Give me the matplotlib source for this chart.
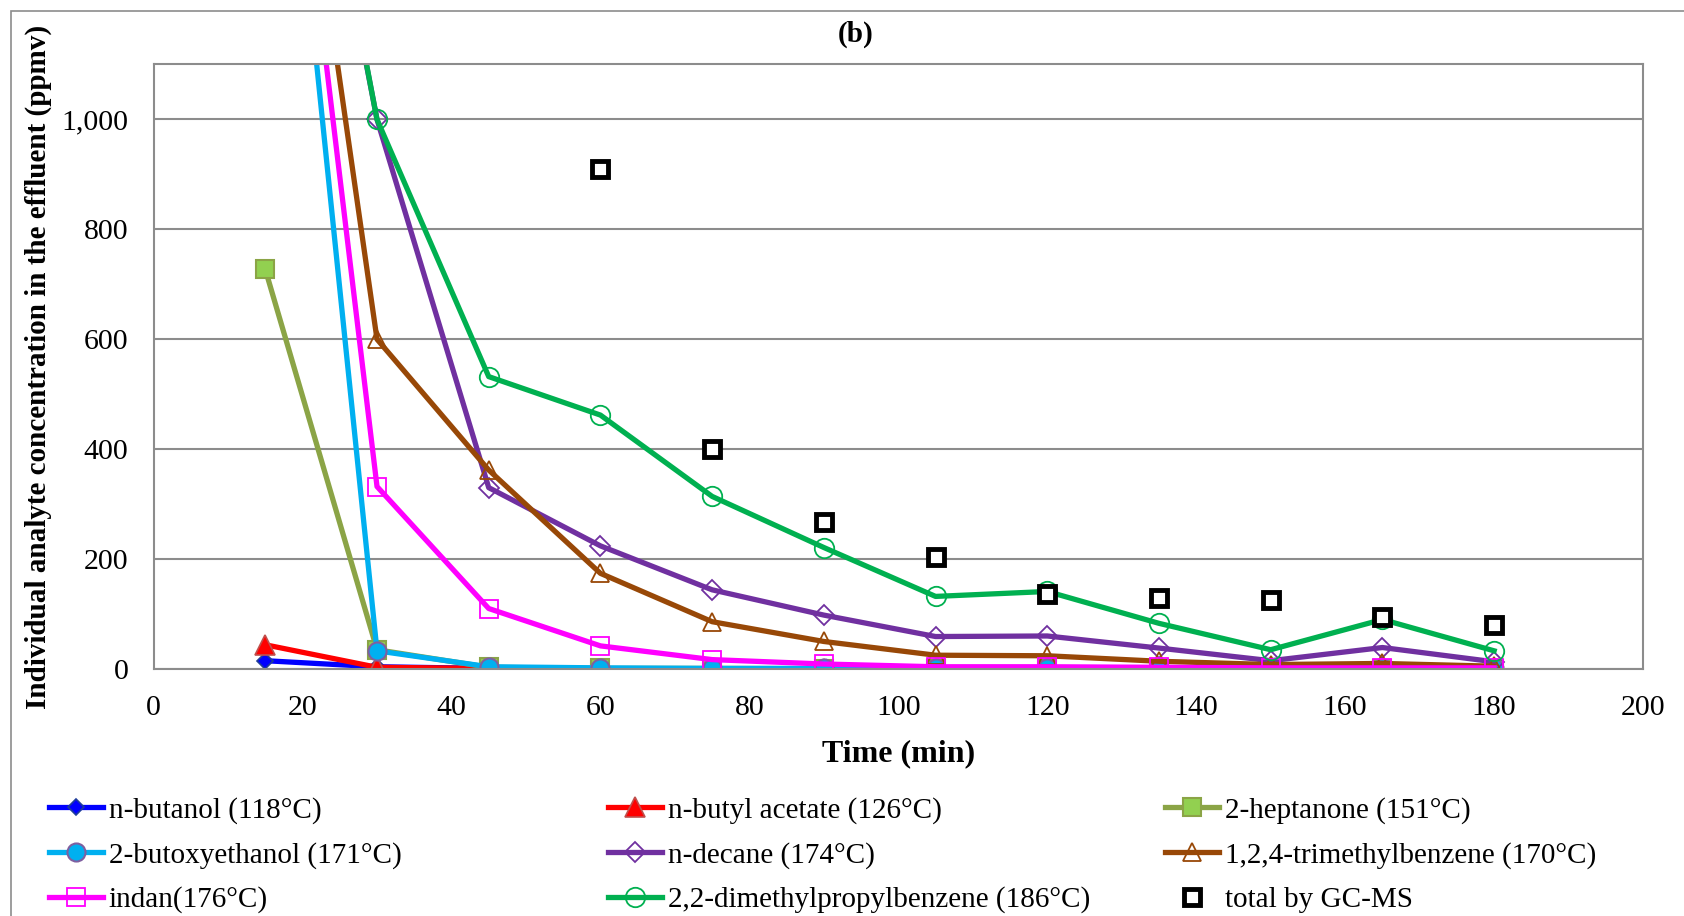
import numpy as np
import matplotlib
matplotlib.use("Agg")
import matplotlib.pyplot as plt
from matplotlib.ticker import FuncFormatter, MultipleLocator
from matplotlib.patches import Rectangle

plt.rcParams['font.family'] = ['Liberation Serif', 'DejaVu Serif']

# sampling times (min)
t = [15, 30, 45, 60, 75, 90, 105, 120, 135, 150, 165, 180]
t_total = [60, 75, 90, 105, 120, 135, 150, 165, 180]

# concentrations in the effluent (ppmv)
butanol = [15, 4, 1, 0.5, 0.5, 0.5, 0.3, 0.3, 0.3, 0.3, 0.3, 0.3]
butyl_acetate = [44, 3, 1, 0.5, 0.5, 0.5, 0.3, 0.3, 0.3, 0.3, 0.3, 0.3]
heptanone = [727, 35, 3, 1, 1, 0.5, 0.5, 0.5, 0.5, 0.5, 0.5, 0.5]
butoxyethanol = [2010, 33, 4, 2, 1, 1, 1, 1, 1, 1, 1, 1]
decane = [2050, 1000, 330, 224, 144, 98, 59, 60, 38, 15, 39, 13]
tmb = [2015, 600, 362, 174, 86, 50, 25, 24, 14, 8, 10, 5]
indan = [2025, 332, 110, 42, 17, 9, 4, 4, 3, 2, 2, 2]
dmpb = [2070, 1000, 532, 462, 314, 221, 132, 141, 83, 35, 90, 33]
total_gcms = [909, 400, 267, 203, 136, 129, 125, 94, 80]

labels = ["n-butanol (118°C)", "n-butyl acetate (126°C)", "2-heptanone (151°C)",
          "2-butoxyethanol (171°C)", "n-decane (174°C)", "1,2,4-trimethylbenzene (170°C)",
          "indan(176°C)", "2,2-dimethylpropylbenzene (186°C)", "total by GC-MS"]

fig = plt.figure(figsize=(16.84, 9.16), dpi=100)
ax = fig.add_axes([0.0912, 0.2697, 0.8845, 0.6599])

lw = 3.8
h = []
h += ax.plot(t, butanol, color="#0000FF", lw=lw, marker="D", ms=8,
             mfc="#0000FF", mec="#1F3D9A", mew=1.2)
h += ax.plot(t, butyl_acetate, color="#FF0000", lw=lw, marker="^", ms=14,
             mfc="#FF0000", mec="#C0504D", mew=1.2)
h += ax.plot(t, heptanone, color="#8BA446", lw=lw, marker="s", ms=13,
             mfc="#92D050", mec="#8BA446", mew=1.5)
h += ax.plot(t, butoxyethanol, color="#00B0F0", lw=lw, marker="o", ms=13,
             mfc="#00B0F0", mec="#7F5FA0", mew=1.5)
h += ax.plot(t, decane, color="#7030A0", lw=lw, marker="D", ms=10,
             mfc="none", mec="#7030A0", mew=1.3)
h += ax.plot(t, tmb, color="#984807", lw=lw, marker="^", ms=13,
             mfc="none", mec="#984807", mew=1.3)
h += ax.plot(t, indan, color="#FF00FF", lw=lw, marker="s", ms=13,
             mfc="none", mec="#FF00FF", mew=1.3)
h += ax.plot(t, dmpb, color="#00B050", lw=lw, marker="o", ms=14,
             mfc="none", mec="#00B050", mew=1.3)
h += ax.plot(t_total, total_gcms, ls="none", marker="s", ms=11,
             mfc="white", mec="black", mew=3.5)

ax.set_xlim(0, 200)
ax.set_ylim(0, 1100)
ax.xaxis.set_major_locator(MultipleLocator(20))
ax.yaxis.set_major_locator(MultipleLocator(200))
ax.yaxis.set_major_formatter(FuncFormatter(lambda v, p: "{:,.0f}".format(v)))
ax.tick_params(length=0, labelsize=21.5)
ax.tick_params(axis="x", pad=19)
ax.tick_params(axis="y", pad=18)
ax.grid(axis="y", color="#8C8C8C", lw=1.5)
ax.set_axisbelow(True)
for s in ax.spines.values():
    s.set_color("#8C8C8C")
    s.set_linewidth(1.5)

ax.set_xlabel("Time (min)", fontsize=23, fontweight="bold", labelpad=13)
ax.set_ylabel("Individual analyte concentration in the effluent (ppmv)",
              fontsize=21, fontweight="bold", labelpad=7)
fig.text(0.508, 0.963, "(b)", ha="center", va="center", fontsize=21, fontweight="bold")

# legend laid out row by row in three columns
col_x = [0.029, 0.361, 0.692]
for c in range(3):
    idx = [c, c + 3, c + 6]
    fig.legend([h[i] for i in idx], [labels[i] for i in idx],
               loc="upper left", bbox_to_anchor=(col_x[c], 0.130),
               frameon=False, fontsize=21, handlelength=1.85,
               handletextpad=0.2, labelspacing=0.61, borderaxespad=0,
               borderpad=0)

# chart-area border
fig.add_artist(Rectangle((11 / 1684, -0.1), 1.2, 1.1 - 11 / 916,
                         transform=fig.transFigure, fill=False,
                         edgecolor="#8C8C8C", lw=1.2, clip_on=False))

fig.savefig("out.png", dpi=100)
